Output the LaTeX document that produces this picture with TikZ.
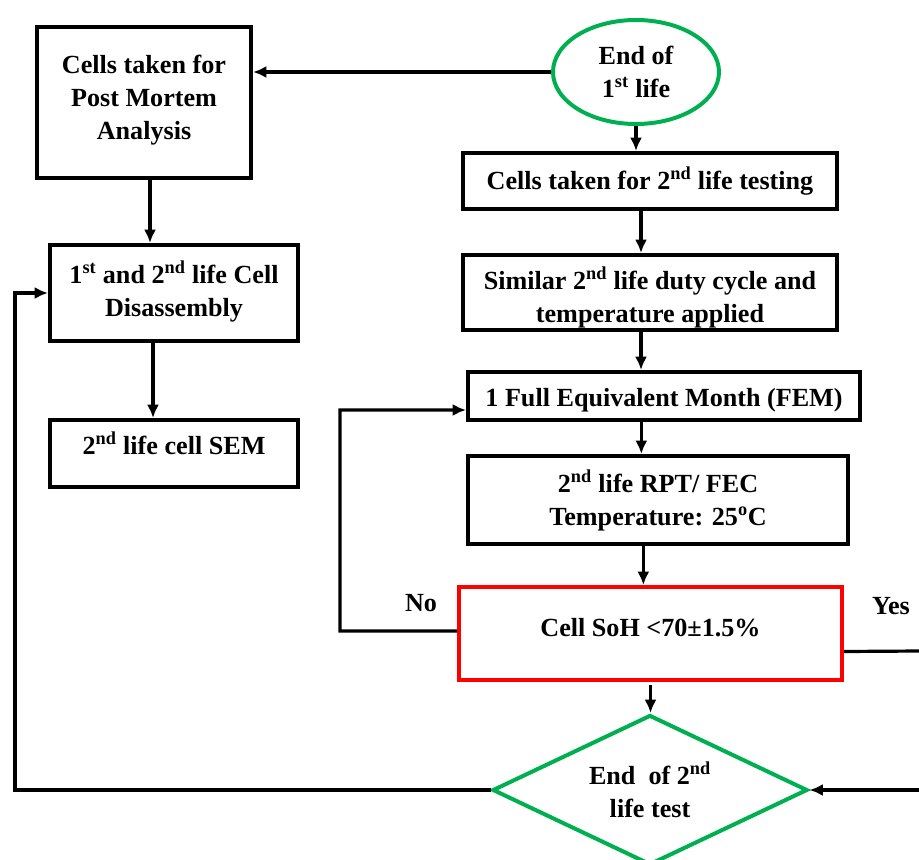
\documentclass[tikz,border=0pt]{standalone}
\usepackage{fontspec}
\setmainfont{Liberation Serif}
\usetikzlibrary{arrows.meta,shapes.geometric,calc}
\definecolor{flowgreen}{RGB}{0,176,80}
\definecolor{flowred}{RGB}{255,0,0}
\begin{document}
\begin{tikzpicture}[x=0.75pt,y=-0.75pt,
  every node/.style={font=\fontsize{19.6}{24.75}\selectfont\bfseries, align=center, inner sep=0pt},
  stepbox/.style={draw=black, line width=3pt, rectangle},
  checkbox/.style={draw=flowred, line width=3pt, rectangle},
  startnode/.style={draw=flowgreen, line width=3pt, ellipse},
  endnode/.style={draw=flowgreen, line width=3pt, diamond, aspect=2.1},
  arr/.style={line width=2.4pt, -{Latex[length=10pt,width=9pt]}},
  plain/.style={line width=2.4pt}]
\useasboundingbox (0,0) rectangle (919,859);
\clip (0,0) rectangle (919,859);

% process boxes
\node[stepbox, minimum width=160.5pt, minimum height=113.25pt, text depth=8pt] (pm) at (144,102.5)
  {Cells taken for\\Post Mortem\\Analysis};
\node[startnode, minimum width=124.5pt, minimum height=78pt] (eol) at (636,72)
  {End of\\1\textsuperscript{st} life};
\node[stepbox, minimum width=280.5pt, minimum height=42pt] (second) at (650,181)
  {Cells taken for 2\textsuperscript{nd} life testing};
\node[stepbox, minimum width=280.5pt, minimum height=56.25pt,
  label={[yshift=-3.75pt]center:Similar 2\textsuperscript{nd} life duty cycle and\\temperature applied}] (duty) at (650,292.5) {};
\node[stepbox, minimum width=294pt, minimum height=36pt,
  label={[yshift=-3pt]center:1 Full Equivalent Month (FEM)}] (fem) at (664,396) {};
\node[stepbox, minimum width=285pt, minimum height=66pt] (rpt) at (658,500)
  {2\textsuperscript{nd} life RPT/ FEC\\Temperature: 25\textsuperscript{o}C};
\node[checkbox, minimum width=287.25pt, minimum height=69.75pt, text depth=9pt] (soh) at (650.5,633.5)
  {Cell SoH <70±1.5\%};
\node[endnode, minimum width=236.25pt, minimum height=112.5pt,
  label={[yshift=0pt]center:End\enspace of 2\textsuperscript{nd}\\life test}] (eos) at (650,790) {};
\node[stepbox, minimum width=186pt, minimum height=72pt, text depth=6pt] (dis) at (174,293)
  {1\textsuperscript{st} and 2\textsuperscript{nd} life Cell\\Disassembly};
\node[stepbox, minimum width=186pt, minimum height=50.25pt, text depth=16pt] (sem) at (174,453.5)
  {2\textsuperscript{nd} life cell SEM};

% branch labels
\node (no) at (421,603) {No};
\node (yes) at (891,606) {Yes};

% loose ends at the right border
\coordinate (yesout) at (919,651);
\coordinate (yesin) at (919,790);
\coordinate (leftrail) at (15,790);
\coordinate (norail) at (340,631);

% main flow
\draw[arr] (eol.west) -- (eol.west -| pm.east);
\draw[arr] (eol.south) -- (eol.south |- second.north);
\draw[arr] ([xshift=-6.75pt]second.south) -- ([xshift=-6.75pt]second.south |- duty.north);
\draw[arr] ([xshift=-6.75pt]duty.south) -- ([xshift=-6.75pt]duty.south |- fem.north);
\draw[arr] ([xshift=-17pt]fem.south) -- ([xshift=-17pt]fem.south |- rpt.north);
\draw[arr] ([xshift=-11pt]rpt.south) -- ([xshift=-11pt]rpt.south |- soh.north);
\draw[arr, shorten <=2.5pt] (soh.south) -- (soh.south |- eos.north);

% left column
\draw[arr] ([xshift=4.5pt]pm.south) -- ([xshift=4.5pt]pm.south |- dis.north);
\draw[arr] ([xshift=-15.75pt]dis.south) -- ([xshift=-15.75pt]dis.south |- sem.north);

% "No" loop back to the monthly step
\draw[arr] ([yshift=1.9pt]soh.west) -- (norail) |- ([yshift=-10.5pt]fem.west);

% "Yes" branch leaves to the right and returns into the end test
\draw[plain] ([yshift=-13.5pt]soh.east) -- (yesout);
\draw[arr] (yesin) -- (eos.east);

% end of second life feeds disassembly
\draw[arr] (eos.west) -- (leftrail) |- (dis.west);
\end{tikzpicture}
\end{document}
